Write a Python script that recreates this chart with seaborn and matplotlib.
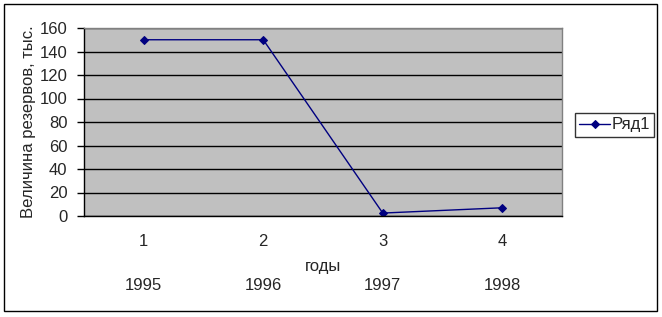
import matplotlib
matplotlib.use("Agg")
import matplotlib.pyplot as plt
import seaborn as sns
import pandas as pd
from matplotlib.patches import Rectangle

categories = ["1", "2", "3", "4"]
years = ["1995", "1996", "1997", "1998"]
values = [150, 150, 2.5, 7]
series_name = "Ряд1"

sns.set_style("white")
plt.rcParams["font.family"] = ["Liberation Sans", "DejaVu Sans"]
FS = 12
plt.rcParams["font.size"] = FS

df = pd.DataFrame({"x": list(range(len(categories))), "y": values, "s": series_name})

W, H = 662, 317
fig = plt.figure(figsize=(W / 100, H / 100), dpi=100)
ax = fig.add_axes([84 / W, 1 - 216 / H, (562 - 84) / W, (216 - 28) / H])
ax.set_facecolor("#C0C0C0")

sns.lineplot(data=df, x="x", y="y", hue="s", palette=["#000080"], marker="D",
             markersize=4.5, markeredgecolor="#000080", linewidth=1, ax=ax)

ax.set_xlim(-0.5, len(categories) - 0.5)
ax.set_ylim(0, 160)
ax.set_yticks(range(0, 161, 20))
ax.yaxis.grid(True, color="black", linewidth=1)
ax.set_axisbelow(True)

ax.set_xticks(range(len(categories)))
ax.set_xticklabels(categories)
ax.set_xticks([i - 0.5 for i in range(len(categories) + 1)], minor=True)
ax.tick_params(axis="x", which="major", length=0, pad=13, labelsize=FS)
ax.tick_params(axis="x", which="minor", length=5, width=1, color="black", direction="out")
ax.tick_params(axis="y", which="major", length=5, width=1, color="black", direction="out",
               left=True, pad=7, labelsize=FS)

for side in ["left", "bottom"]:
    ax.spines[side].set_color("black")
    ax.spines[side].set_linewidth(1)
for side in ["top", "right"]:
    ax.spines[side].set_color("#808080")
    ax.spines[side].set_linewidth(1)

ax.set_xlabel("годы", fontsize=FS, labelpad=7.3)
ax.set_ylabel("Величина резервов, тыс.", fontsize=FS, labelpad=2.4)

for i, yr in enumerate(years):
    ax.annotate(yr, xy=(i, 0), xycoords=("data", "axes fraction"),
                xytext=(0, -69), textcoords="offset pixels",
                ha="center", va="center", fontsize=FS)

leg = ax.legend(loc="center left", bbox_to_anchor=(575 / W, 1 - 125 / H),
                bbox_transform=fig.transFigure, frameon=True, fancybox=False,
                handlelength=1.85, handletextpad=0.1, borderpad=0.25,
                borderaxespad=0, fontsize=FS)
leg.get_frame().set_edgecolor("black")
leg.get_frame().set_linewidth(1)

fig.patches.append(Rectangle((4 / W, 1 - 311 / H), (657 - 4) / W, (311 - 4) / H,
                             transform=fig.transFigure, fill=False,
                             edgecolor="black", linewidth=1))

fig.savefig("out.png", dpi=100)
